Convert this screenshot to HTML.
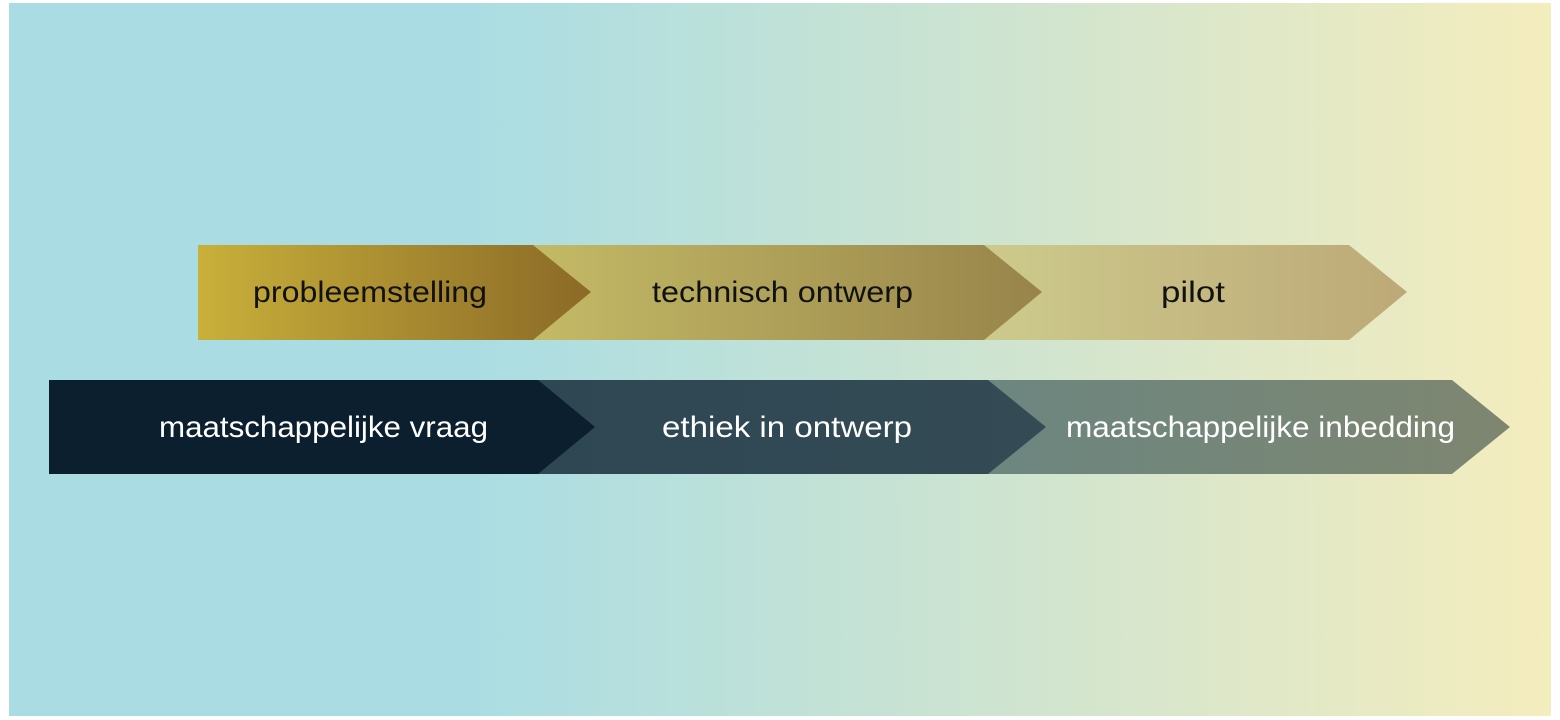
<!DOCTYPE html>
<html><head><style>html,body{margin:0;padding:0;background:#fff;width:1560px;height:720px;overflow:hidden}</style></head>
<body>
<svg width="1560" height="720" xmlns="http://www.w3.org/2000/svg" font-family="Liberation Sans, DejaVu Sans, sans-serif">
<defs>
<linearGradient id="bg" x1="0" x2="1" y1="0" y2="0">
<stop offset="0" stop-color="#a9dde3"/><stop offset="0.3" stop-color="#aadde3"/><stop offset="0.65" stop-color="#cfe4d0"/><stop offset="1" stop-color="#f4edbd"/></linearGradient>
<linearGradient id="t1" x1="0" x2="1"><stop offset="0" stop-color="#c8b03a"/><stop offset="1" stop-color="#8b6a27"/></linearGradient>
<linearGradient id="t2" x1="0" x2="1"><stop offset="0" stop-color="#c3ba66"/><stop offset="1" stop-color="#98844a"/></linearGradient>
<linearGradient id="t3" x1="0" x2="1"><stop offset="0" stop-color="#cdca8c"/><stop offset="1" stop-color="#bda977"/></linearGradient>
<linearGradient id="b2" x1="0" x2="1"><stop offset="0" stop-color="#2e4753"/><stop offset="1" stop-color="#344b55"/></linearGradient>
<linearGradient id="b3" x1="0" x2="1"><stop offset="0" stop-color="#6c8680"/><stop offset="1" stop-color="#7e8670"/></linearGradient>
</defs>
<rect x="9" y="3" width="1542" height="713" fill="url(#bg)"/>
<polygon points="984,245 1349,245 1407,292 1349,340 984,340" fill="url(#t3)"/>
<polygon points="533,245 984,245 1042,292 984,340 533,340" fill="url(#t2)"/>
<polygon points="198,245 533,245 591,292 533,340 198,340" fill="url(#t1)"/>
<polygon points="988,380 1452,380 1510,427 1452,474 988,474" fill="url(#b3)"/>
<polygon points="538,380 988,380 1046,427 988,474 538,474" fill="url(#b2)"/>
<polygon points="49,380 538,380 595,427 538,474 49,474" fill="#0c1f2e"/>
<g font-size="30" fill="#111">
<text x="253" y="302" textLength="234" lengthAdjust="spacingAndGlyphs">probleemstelling</text>
<text x="652" y="302" textLength="261" lengthAdjust="spacingAndGlyphs">technisch ontwerp</text>
<text x="1161" y="302" textLength="64" lengthAdjust="spacingAndGlyphs">pilot</text>
</g>
<g font-size="30" fill="#fff">
<text x="159" y="437" textLength="329" lengthAdjust="spacingAndGlyphs">maatschappelijke vraag</text>
<text x="662" y="437" textLength="250" lengthAdjust="spacingAndGlyphs">ethiek in ontwerp</text>
<text x="1066" y="437" textLength="389" lengthAdjust="spacingAndGlyphs">maatschappelijke inbedding</text>
</g>
</svg>
</body></html>
